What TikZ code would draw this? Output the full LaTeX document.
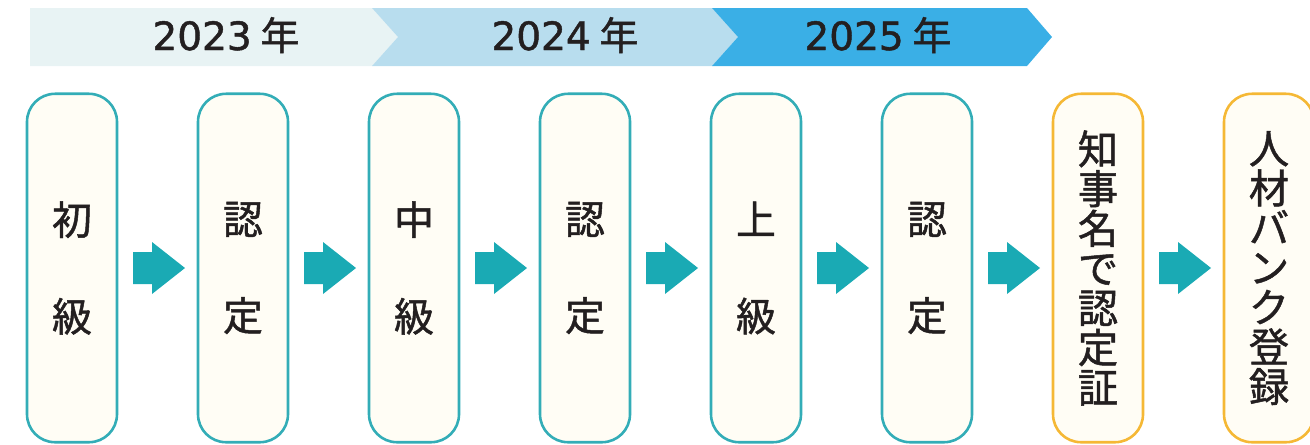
\documentclass[tikz,border=0pt]{standalone}
\usepackage{fontspec}
\setmainfont{Noto Sans CJK JP}[UprightFeatures={FakeBold=1.2}]
\newfontfamily\numfont{DejaVu Sans}[UprightFeatures={FakeBold=1.2}]
\usetikzlibrary{calc}
\definecolor{band1}{HTML}{E8F3F4}
\definecolor{band2}{HTML}{B8DDEE}
\definecolor{band3}{HTML}{3AAFE6}
\definecolor{stepline}{HTML}{33ADB7}
\definecolor{goalline}{HTML}{F5B835}
\definecolor{arrowfill}{HTML}{1AAAB4}
\definecolor{boxfill}{HTML}{FFFDF5}
\definecolor{ink}{HTML}{231F20}

\tikzset{
  stagebox/.style={draw=stepline, fill=boxfill, line width=0.052cm,
    rounded corners=0.56cm, minimum width=1.8cm, minimum height=6.97cm,
    inner sep=0pt, align=center, text=ink,
    execute at begin node={\lineskiplimit=-30pt},
    font=\fontsize{22.7pt}{55pt}\selectfont},
  goalbox/.style={stagebox, draw=goalline,
    font=\fontsize{22.9pt}{22.6pt}\selectfont},
  yearlabel/.style={anchor=base, text=ink, font=\fontsize{22.2pt}{24pt}\selectfont}
}

\begin{document}
\begin{tikzpicture}[x=0.02cm, y=-0.02cm]
    \useasboundingbox (0,0) rectangle (1310,444);
    % year band
    \fill [band1] (30,8) -- (372,8) -- (398,37) -- (372,66) -- (30,66) -- cycle;
    \fill [band2] (372,8) -- (712,8) -- (738,37) -- (712,66) -- (372,66) -- (398,37) -- cycle;
    \fill [band3] (712,8) -- (1027,8) -- (1052,37) -- (1027,66) -- (712,66) -- (738,37) -- cycle;
    \node[yearlabel] (y23) at (226,50) {{\numfont 2023} 年};
    \node[yearlabel] (y24) at (565,50) {{\numfont 2024} 年};
    \node[yearlabel] (y25) at (878,50) {{\numfont 2025} 年};

    % steps
    \node[stagebox] (s1) at (72,268) {初\\級};
    \node[stagebox] (s2) at (243,268) {認\\定};
    \node[stagebox] (s3) at (414,268) {中\\級};
    \node[stagebox] (s4) at (585,268) {認\\定};
    \node[stagebox] (s5) at (756,268) {上\\級};
    \node[stagebox] (s6) at (927,268) {認\\定};
    \node[goalbox] (s7) at (1098,268) {知\\事\\名\\で\\認\\定\\証};
    \node[goalbox] (s8) at (1269,268) {人\\材\\バ\\ン\\ク\\登\\録};

    \foreach \i [evaluate=\i as \j using {int(\i+1)}] in {1,...,7}
      \fill [arrowfill] ($(s\i.east)!.5!(s\j.west)$)
        +(-24.5,-16) -- +(-5.5,-16) -- +(-5.5,-26) -- +(27.5,0)
        -- +(-5.5,26) -- +(-5.5,16) -- +(-24.5,16) -- cycle;
\end{tikzpicture}
\end{document}
